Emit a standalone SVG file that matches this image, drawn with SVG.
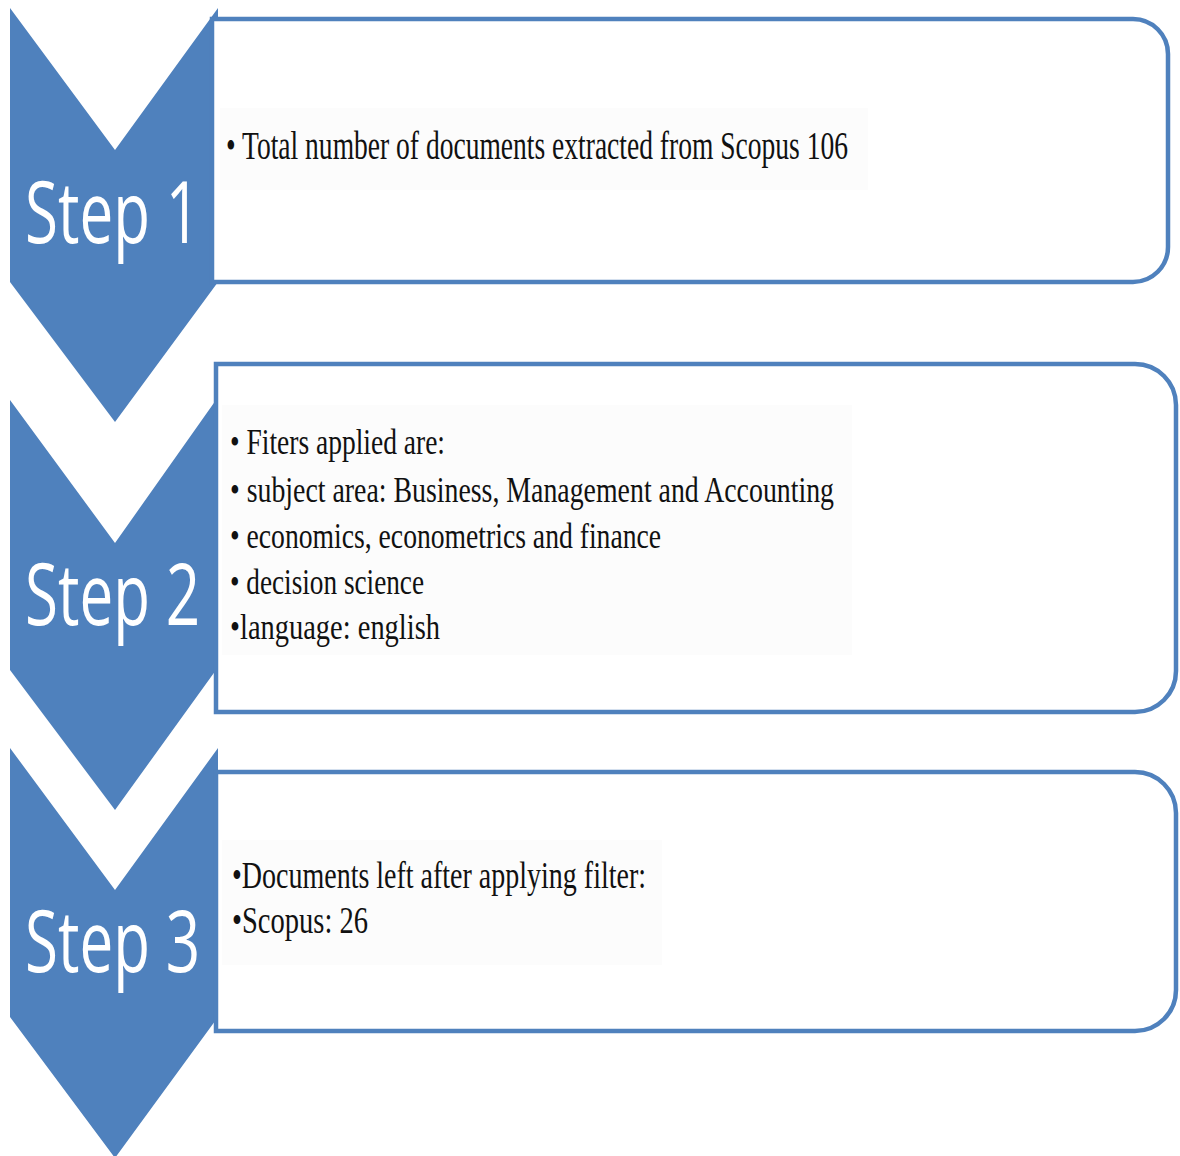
<svg xmlns="http://www.w3.org/2000/svg" width="1180" height="1156" viewBox="0 0 1180 1156">
<style>
.chev{fill:#4f81bd}
.box{fill:#ffffff;stroke:#4f81bd;stroke-width:4.5}
.step{font-family:"Open Sans","Liberation Sans",sans-serif;fill:#ffffff;font-size:86px}
.t{font-family:"Liberation Serif","Times New Roman",serif;fill:#111111}
.bg{fill:#fcfcfc}
</style>
<rect width="1180" height="1156" fill="#ffffff"/>
<g id="step1">
<path class="chev" d="M10,8 L115,150 L218,8 L218,282 L115,422 L10,282 Z"/>
<path class="box" d="M212,19 H1133 A35,35 0 0 1 1168,54 V247 A35,35 0 0 1 1133,282 H212 Z"/>
<rect class="bg" x="220" y="108" width="648" height="82"/>
<text class="step" transform="translate(25,243) scale(0.7,1)">Step 1</text>
<text class="t" x="226" y="159" font-size="39" textLength="622" lengthAdjust="spacingAndGlyphs">• Total number of documents extracted from Scopus 106</text>
</g>
<g id="step2">
<path class="chev" d="M10,400 L115,543 L216,400 L216,670 L115,810 L10,670 Z"/>
<path class="box" d="M216,364 H1135 A41,41 0 0 1 1176,405 V671 A41,41 0 0 1 1135,712 H216 Z"/>
<rect class="bg" x="222" y="405" width="630" height="250"/>
<text class="step" transform="translate(25,625) scale(0.7,1)">Step 2</text>
<text class="t" x="230" y="454" font-size="35" textLength="215" lengthAdjust="spacingAndGlyphs">• Fiters applied are:</text>
<text class="t" x="230" y="502" font-size="35" textLength="604" lengthAdjust="spacingAndGlyphs">• subject area: Business, Management and Accounting</text>
<text class="t" x="230" y="548" font-size="35" textLength="431" lengthAdjust="spacingAndGlyphs">• economics, econometrics and finance</text>
<text class="t" x="230" y="594" font-size="35" textLength="194" lengthAdjust="spacingAndGlyphs">• decision science</text>
<text class="t" x="230" y="639" font-size="35" textLength="210" lengthAdjust="spacingAndGlyphs">•language: english</text>
</g>
<g id="step3">
<path class="chev" d="M10,748 L115,890 L218,748 L218,1017 L115,1158 L10,1017 Z"/>
<path class="box" d="M216,772 H1135 A41,41 0 0 1 1176,813 V990 A41,41 0 0 1 1135,1031 H216 Z"/>
<rect class="bg" x="222" y="840" width="440" height="125"/>
<text class="step" transform="translate(25,972) scale(0.7,1)">Step 3</text>
<text class="t" x="232" y="888" font-size="37" textLength="414" lengthAdjust="spacingAndGlyphs">•Documents left after applying filter:</text>
<text class="t" x="232" y="933" font-size="37" textLength="136" lengthAdjust="spacingAndGlyphs">•Scopus: 26</text>
</g>
<g id="connectors"></g>
</svg>
